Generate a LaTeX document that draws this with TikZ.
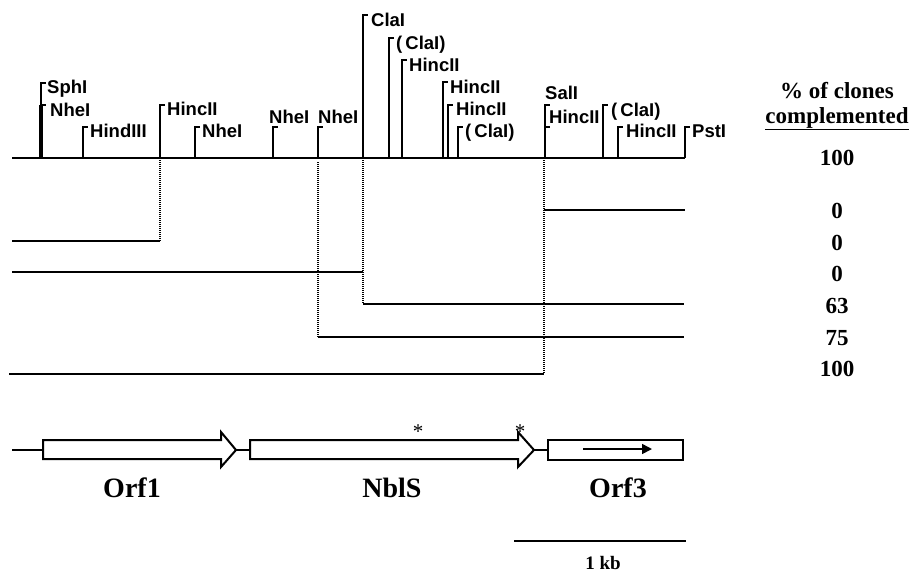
\documentclass[tikz,border=0pt]{standalone}
\usepackage{fontspec}
\setmainfont{Liberation Serif}
\newfontfamily\sitefont{Liberation Sans}
\usetikzlibrary{arrows.meta}
\begin{document}
\begin{tikzpicture}[x=1pt,y=-1pt,
  site/.style={font=\sitefont\bfseries\fontsize{18.5}{19}\selectfont, inner sep=0pt, anchor=base west},
  pct/.style={font=\bfseries\fontsize{23}{24}\selectfont, inner sep=0pt, anchor=base},
  gene/.style={font=\bfseries\fontsize{28}{29}\selectfont, inner sep=0pt, anchor=base},
  ast/.style={font=\fontsize{21}{21}\selectfont, inner sep=0pt, anchor=base},
  tick/.style={line width=1.6pt},
  frag/.style={line width=1.8pt},
  dots/.style={line width=1.3pt, dash pattern=on 1pt off 1pt},
  genebox/.style={line width=2pt, fill=white},
]
\useasboundingbox (0,0) rectangle (916,574);

% ---------- restriction map ----------
\coordinate (L) at (12,158);
\coordinate (R) at (685,158);
\draw[line width=2.2pt] (L) -- (R);

% SphI / NheI (double tick)
\draw[line width=3.2pt] (41,158) -- (41,105);
\draw[tick] (41,105) -- (41,83) -- (46,83);
\draw[tick] (41,105) -- (46,105);
\node[site] (sph) at (47,93) {SphI};
\node[site] (nhe1) at (50,116) {NheI};
% HindIII
\draw[tick] (83,158) -- (83,127) -- (88,127);
\node[site] (hind) at (90,137) {HindIII};
% HincII
\draw[tick] (160,158) -- (160,105) -- (165,105);
\node[site] (hc1) at (167,115) {HincII};
% NheI
\draw[tick] (195,158) -- (195,127) -- (200,127);
\node[site] (nhe2) at (202,137) {NheI};
% NheI (label above)
\draw[tick] (273,158) -- (273,127) -- (278,127);
\node[site] (nhe3) at (269,123) {NheI};
% NheI (label above)
\draw[tick] (318,158) -- (318,127) -- (323,127);
\node[site] (nhe4) at (318,123) {NheI};
% ClaI
\draw[tick] (363,158) -- (363,15) -- (368,15);
\node[site] (cla1) at (371,26) {ClaI};
% (ClaI)
\draw[tick] (389,158) -- (389,38) -- (394,38);
\node[site] (cla2) at (396,49) {(\,ClaI)};
% HincII
\draw[tick] (402,158) -- (402,60) -- (407,60);
\node[site] (hc2) at (409,71) {HincII};
% HincII
\draw[tick] (443,158) -- (443,82) -- (448,82);
\node[site] (hc3) at (450,93) {HincII};
% HincII
\draw[tick] (448,158) -- (448,105) -- (453,105);
\node[site] (hc4) at (456,115) {HincII};
% (ClaI)
\draw[tick] (458,158) -- (458,127) -- (463,127);
\node[site] (cla3) at (465,137) {(\,ClaI)};
% SalI / HincII
\draw[tick] (545,158) -- (545,105) -- (550,105);
\draw[tick] (545,127) -- (550,127);
\node[site] (sal) at (545,99) {SalI};
\node[site] (hc5) at (549,123) {HincII};
% (ClaI)
\draw[tick] (603,158) -- (603,105) -- (608,105);
\node[site] (cla4) at (611,116) {(\,ClaI)};
% HincII
\draw[tick] (618,158) -- (618,127) -- (623,127);
\node[site] (hc6) at (626,137) {HincII};
% PstI
\draw[tick] (685,158) -- (685,127) -- (690,127);
\node[site] (pst) at (692,137) {PstI};

% ---------- deletion fragments ----------
\coordinate (d1t) at (160,160); \coordinate (d1b) at (160,241);
\coordinate (d2t) at (318,162); \coordinate (d2b) at (318,337);
\coordinate (d3t) at (363,160); \coordinate (d3b) at (363,304);
\coordinate (d4t) at (544,160); \coordinate (d4b) at (544,374);
\draw[dots] (d1t) -- (d1b);
\draw[dots] (d2t) -- (d2b);
\draw[dots] (d3t) -- (d3b);
\draw[dots] (d4t) -- (d4b);

\coordinate (f1a) at (544,210); \coordinate (f1b) at (685,210);
\coordinate (f2a) at (12,241);
\coordinate (f3a) at (12,272);
\coordinate (f4b) at (684,304);
\coordinate (f5b) at (684,337);
\coordinate (f6a) at (9,374);
\draw[frag] (f1a) -- (f1b);
\draw[frag] (f2a) -- (d1b);
\draw[frag] (f3a) -- (363,272);
\draw[frag] (d3b) -- (f4b);
\draw[frag] (d2b) -- (f5b);
\draw[line width=2.2pt] (f6a) -- (d4b);

% ---------- percentages ----------
\node[pct] (h1) at (837,98) {\% of clones};
\node[pct] (h2) at (837,123) {\underline{complemented}};
\node[pct] (p0) at (837,165) {100};
\node[pct] (p1) at (837,218) {0};
\node[pct] (p2) at (837,250) {0};
\node[pct] (p3) at (837,281) {0};
\node[pct] (p4) at (837,313) {63};
\node[pct] (p5) at (837,345) {75};
\node[pct] (p6) at (837,376) {100};

% ---------- gene organisation ----------
\coordinate (g0) at (12,450);
\coordinate (o1s) at (43,450);
\coordinate (o1e) at (236,450);
\coordinate (nbs) at (250,450);
\coordinate (nbe) at (534,450);
\coordinate (o3s) at (548,450);
\draw[frag] (g0) -- (o1s);
\draw[frag] (o1e) -- (nbs);
\draw[frag] (nbe) -- (o3s);
\draw[genebox] (43,440) -- (221,440) -- (221,432) -- (o1e) -- (221,467) -- (221,459) -- (43,459) -- cycle;
\draw[genebox] (250,440) -- (518,440) -- (518,432) -- (nbe) -- (518,467) -- (518,459) -- (250,459) -- cycle;
\draw[genebox] (548,440) rectangle (683,460);
\coordinate (a3s) at (583,449);
\coordinate (a3e) at (652,449);
\draw[line width=1.6pt, -{Triangle[length=10pt,width=10pt]}] (a3s) -- (a3e);

\node[ast] (st1) at (418,438) {*};
\node[ast] (st2) at (520,438) {*};

\node[gene] (orf1) at (132,497) {Orf1};
\node[gene] (nbls) at (392,497) {NblS};
\node[gene] (orf3) at (618,497) {Orf3};

% scale bar
\coordinate (sb1) at (514,541);
\coordinate (sb2) at (686,541);
\draw[line width=1.8pt] (sb1) -- (sb2);
\node[font=\bfseries\fontsize{19}{20}\selectfont, inner sep=0pt, anchor=base] (kb) at (603,569) {1 kb};
\end{tikzpicture}
\end{document}
